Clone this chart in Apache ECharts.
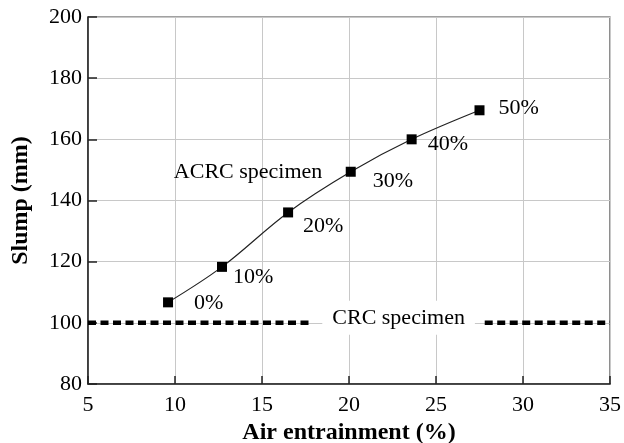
<!DOCTYPE html>
<html>
<head>
<meta charset="utf-8">
<script src="https://cdn.jsdelivr.net/npm/echarts@6/dist/echarts.min.js"></script>
<style>
  html, body { margin: 0; padding: 0; background: #fff; }
  #chart { width: 624px; height: 443px; }
</style>
</head>
<body>
<div id="chart"></div>
<script>
// Air entrainment (%) vs slump (mm) for ACRC specimens at each replacement level
const airEntrainment = [9.6, 12.7, 16.5, 20.1, 23.6, 27.5];
const slump = [106.7, 118.3, 136.1, 149.4, 160.0, 169.5];
const replacementLabels = ['0%', '10%', '20%', '30%', '40%', '50%'];

// CRC reference slump, drawn as a dashed level broken around its caption
const crcSlump = 100;
const crcLeftSpan = [5, 17.9];
const crcRightSpan = [27.8, 35];
const crcCaptionX = 22.85;
const acrcCaptionPos = [14.2, 149.3];

const xTicks = { min: 5, max: 35, interval: 5 };
const yTicks = { min: 80, max: 200, interval: 20 };

// label offsets beside each marker
const labelOffsets = [[21, 1], [6, 10], [10, 14], [17, 9], [11, 5], [14, -2]];

const serif = '"Liberation Serif", "DejaVu Serif", serif';
const ink = '#000';

const chart = echarts.init(document.getElementById('chart'), null, { renderer: 'canvas' });

const dashStyle = { color: '#000', width: 4.5, type: [8, 4.5] };

chart.setOption({
  animation: false,
  backgroundColor: '#fff',
  grid: {
    left: 88, right: 14, top: 17, bottom: 59,
    containLabel: false,
    outerBoundsMode: 'none',
    show: true, borderColor: '#444', borderWidth: 1.2, backgroundColor: 'transparent'
  },
  xAxis: {
    type: 'value',
    min: xTicks.min, max: xTicks.max, interval: xTicks.interval,
    name: 'Air entrainment (%)',
    nameLocation: 'middle',
    nameGap: 37,
    nameTextStyle: { fontFamily: serif, fontSize: 24, fontWeight: 'bold', color: ink },
    axisLine: { show: true, lineStyle: { color: '#222', width: 1.5 } },
    axisTick: { show: true, inside: true, length: 8, lineStyle: { color: '#222', width: 1.5 } },
    axisLabel: { fontFamily: serif, fontSize: 22, color: ink, margin: 10 },
    splitLine: { show: true, lineStyle: { color: '#c8c8c8', width: 1 } }
  },
  yAxis: {
    type: 'value',
    min: yTicks.min, max: yTicks.max, interval: yTicks.interval,
    name: 'Slump (mm)',
    nameLocation: 'middle',
    nameGap: 55,
    nameTextStyle: { fontFamily: serif, fontSize: 24, fontWeight: 'bold', color: ink },
    axisLine: { show: true, lineStyle: { color: '#222', width: 1.5 } },
    axisTick: { show: true, inside: true, length: 9, lineStyle: { color: '#222', width: 1.5 } },
    axisLabel: { fontFamily: serif, fontSize: 22, color: ink, margin: 6 },
    splitLine: { show: true, lineStyle: { color: '#c8c8c8', width: 1 } }
  },
  series: [
    {
      name: 'CRC left',
      type: 'line',
      data: crcLeftSpan.map(x => [x, crcSlump]),
      symbol: 'none',
      lineStyle: dashStyle,
      z: 3
    },
    {
      name: 'CRC right',
      type: 'line',
      data: crcRightSpan.map(x => [x, crcSlump]),
      symbol: 'none',
      lineStyle: dashStyle,
      z: 3
    },
    {
      name: 'CRC caption',
      type: 'scatter',
      data: [[crcCaptionX, crcSlump]],
      symbolSize: 0,
      itemStyle: { opacity: 1, color: '#000' },
      z: 4,
      label: {
        show: true,
        position: 'inside',
        offset: [0, -5],
        formatter: 'CRC specimen',
        fontFamily: serif, fontSize: 22, color: ink,
        backgroundColor: '#fff',
        padding: [6, 10, 6, 10]
      }
    },
    {
      name: 'ACRC caption',
      type: 'scatter',
      data: [acrcCaptionPos],
      symbolSize: 0,
      itemStyle: { opacity: 1, color: '#000' },
      z: 4,
      label: {
        show: true,
        position: 'inside',
        formatter: 'ACRC specimen',
        fontFamily: serif, fontSize: 22, color: ink
      }
    },
    {
      name: 'ACRC specimen',
      type: 'line',
      smooth: 0.35,
      data: airEntrainment.map((x, i) => ({
        value: [x, slump[i]],
        label: { offset: labelOffsets[i] }
      })),
      symbol: 'rect',
      symbolSize: 10,
      itemStyle: { color: '#000' },
      lineStyle: { color: '#222', width: 1.2 },
      z: 5,
      label: {
        show: true,
        position: 'right',
        distance: 0,
        formatter: p => replacementLabels[p.dataIndex],
        fontFamily: serif, fontSize: 22, color: ink
      }
    }
  ]
});
</script>
</body>
</html>
